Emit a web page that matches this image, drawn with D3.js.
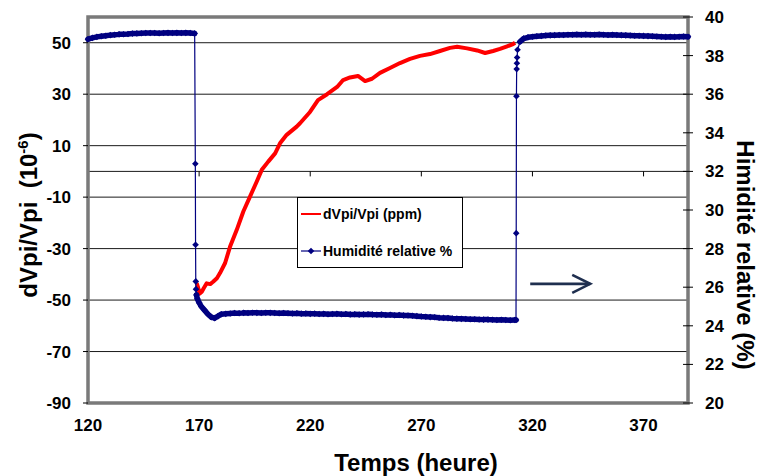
<!DOCTYPE html>
<html><head><meta charset="utf-8">
<script src="https://cdn.jsdelivr.net/npm/d3@7"></script>
<style>
html,body{margin:0;padding:0;background:#fff;}
svg{display:block;font-family:"Liberation Sans",Arial,sans-serif;font-weight:bold;}
</style></head>
<body><svg id="c" width="758" height="476"></svg>
<script>
// ---- data ----
const xTicks = [120, 170, 220, 270, 320, 370];
const leftTicks = [-90, -70, -50, -30, -10, 10, 30, 50];
const gridValues = [-70, -50, -30, -10, 0, 10, 30, 50];
const rightTicks = [20, 22, 24, 26, 28, 30, 32, 34, 36, 38, 40];

const dvHours = [168.9,169.5,170.3,171.2,172,173.4,175,176.3,178,179.4,181.7,183.9,186.9,189.9,192.9,195.9,198.2,201.1,204.2,206.4,209.4,213.9,215.4,219.9,223.5,227.6,232.1,234.8,237.9,241.5,244.7,247.8,251.4,255.9,260.4,264.9,269.4,273.9,278.4,282.9,286.1,290.6,295.1,298.7,302.3,305.4,308.6,311.3,312.2];
const dvValues = [-43.4,-45,-47.5,-46.8,-45.5,-43.5,-43.8,-42.9,-41.5,-39.5,-35.6,-29.3,-22.8,-15.6,-9.8,-4.0,0.6,3.8,7.0,10.9,14.2,17.4,18.7,23.1,27.7,30,32.8,35.5,36.5,37.1,35.1,36,38.3,40.2,42.1,43.7,44.9,45.6,46.8,48,48.4,47.8,47,46,46.8,47.6,48.6,49.5,50];

const humHours = [120,122,124,126,128,130,132,134,136,138,140,142,144,146,148,150,152,154,156,158,160,162,164,166,168,
168.3,168.4,168.5,168.6,168.8,169.2,170,171,172.5,174,175.5,177,178.5,180,
182,184,186,188,190,192,194,196,198,200,202,204,206,208,210,212,214,216,218,220,222,224,226,228,230,232,234,236,238,240,242,244,246,248,250,252,254,256,258,260,262,264,266,268,270,272,274,276,278,280,282,284,286,288,290,292,294,296,298,300,302,304,306,308,310,312,
312.6,312.7,312.8,312.9,313.0,313.1,313.3,314.4,316,318,320,322,
324,326,328,330,332,334,336,338,340,342,344,346,348,350,352,354,356,358,360,362,364,366,368,370,372,374,376,378,380,382,384,386,388,390];
const humValues = [38.85,38.92,38.97,39.0,39.03,39.06,39.08,39.1,39.11,39.12,39.14,39.15,39.16,39.17,39.17,39.17,39.16,39.17,39.18,39.17,39.18,39.17,39.18,39.17,39.15,
32.4,28.2,26.3,25.9,25.6,25.4,25.2,25.0,24.8,24.6,24.45,24.4,24.5,24.6,
24.62,24.64,24.66,24.65,24.67,24.66,24.68,24.67,24.66,24.68,24.67,24.66,24.65,24.66,24.65,24.64,24.65,24.63,24.64,24.62,24.63,24.61,24.62,24.6,24.61,24.62,24.6,24.61,24.59,24.6,24.58,24.59,24.6,24.58,24.57,24.58,24.56,24.57,24.55,24.56,24.54,24.53,24.52,24.5,24.48,24.47,24.45,24.44,24.42,24.41,24.4,24.38,24.37,24.36,24.35,24.34,24.34,24.33,24.32,24.32,24.31,24.3,24.31,24.3,24.29,24.3,
24.3,28.8,35.9,37.3,37.6,37.9,38.3,38.72,38.88,38.95,38.98,39.0,
39.02,39.04,39.05,39.06,39.07,39.07,39.08,39.08,39.09,39.08,39.09,39.08,39.08,39.09,39.08,39.07,39.08,39.07,39.06,39.05,39.04,39.03,39.03,39.02,39.01,39.0,38.99,38.98,38.97,38.98,38.97,38.98,38.99,38.98];

const legendLabels = ["dVpi/Vpi (ppm)", "Humidité relative %"];

// ---- layout ----
const L = 88, R = 688, T = 17, B = 403;
const svg = d3.select("#c");
const x = d3.scaleLinear().domain([120, 390]).range([L, R]);
const yL = d3.scaleLinear().domain([-90, 60]).range([B, T]);
const yR = d3.scaleLinear().domain([20, 40]).range([B, T]);

// gridlines
svg.append("g").selectAll("line").data(gridValues).join("line")
  .attr("x1", L).attr("x2", R).attr("y1", d => yL(d)).attr("y2", d => yL(d))
  .attr("stroke", "#1a1a1a").attr("stroke-width", 1);

// x axis at zero with ticks
svg.append("g").selectAll("line").data(xTicks.slice(1)).join("line")
  .attr("x1", d => x(d)).attr("x2", d => x(d)).attr("y1", yL(0)).attr("y2", yL(0) + 5)
  .attr("stroke", "#000").attr("stroke-width", 1);

// frame
svg.append("rect").attr("x", L).attr("y", T).attr("width", R - L).attr("height", B - T)
  .attr("fill", "none").attr("stroke", "#7a7a7a").attr("stroke-width", 3.5);

// red series
const dv = dvHours.map((h, i) => [h, dvValues[i]]);
svg.append("path").datum(dv)
  .attr("d", d3.line().x(d => x(d[0])).y(d => yL(d[1])))
  .attr("fill", "none").attr("stroke", "#ff0000").attr("stroke-width", 4).attr("stroke-linejoin", "round");

// blue series
const hum = humHours.map((h, i) => [h, humValues[i]]);
const navy = "#000080";
svg.append("path").datum(hum)
  .attr("d", d3.line().x(d => x(d[0])).y(d => yR(d[1])))
  .attr("fill", "none").attr("stroke", navy).attr("stroke-width", 1.2);
// dense marker band: thick stroke between close consecutive points
let band = "";
for (let i = 1; i < hum.length; i++) {
  const x0 = x(hum[i - 1][0]), y0 = yR(hum[i - 1][1]), x1 = x(hum[i][0]), y1 = yR(hum[i][1]);
  if (Math.abs(y1 - y0) < 5) band += `M${x0},${y0}L${x1},${y1}`;
}
svg.append("path").attr("d", band).attr("fill", "none").attr("stroke", navy)
  .attr("stroke-width", 5.5).attr("stroke-linecap", "round").attr("stroke-linejoin", "round");
const diamond = "M0,-3.3L3.3,0L0,3.3L-3.3,0Z";
svg.append("g").selectAll("path").data(hum).join("path")
  .attr("d", diamond).attr("transform", d => `translate(${x(d[0])},${yR(d[1])})`)
  .attr("fill", navy);

// left ticks and labels
svg.append("g").selectAll("line").data(leftTicks).join("line")
  .attr("x1", L - 5).attr("x2", L).attr("y1", d => yL(d)).attr("y2", d => yL(d)).attr("stroke", "#000");
svg.append("g").selectAll("text").data(leftTicks).join("text")
  .attr("x", L - 17).attr("y", d => yL(d) + 6).attr("text-anchor", "end")
  .attr("font-size", 17).text(d => d);

// right ticks and labels
svg.append("g").selectAll("line").data(rightTicks).join("line")
  .attr("x1", R - 5).attr("x2", R + 5).attr("y1", d => yR(d)).attr("y2", d => yR(d)).attr("stroke", "#000");
svg.append("g").selectAll("text").data(rightTicks).join("text")
  .attr("x", R + 17).attr("y", d => yR(d) + 6).attr("text-anchor", "start")
  .attr("font-size", 17).text(d => d);

// bottom labels
svg.append("g").selectAll("text").data(xTicks).join("text")
  .attr("x", d => x(d)).attr("y", 431).attr("text-anchor", "middle")
  .attr("font-size", 17).text(d => d);

// axis titles
svg.append("text").attr("x", 416).attr("y", 471).attr("text-anchor", "middle")
  .attr("font-size", 24).text("Temps (heure)");
const lt = svg.append("text").attr("transform", "translate(37,215) rotate(-90)")
  .attr("text-anchor", "middle").attr("font-size", 24);
lt.append("tspan").text("dVpi/Vpi\u00a0\u00a0(10");
lt.append("tspan").attr("font-size", 15).attr("dy", -9).text("-6");
lt.append("tspan").attr("dy", 9).text(")");
svg.append("text").attr("transform", "translate(737,255) rotate(90)")
  .attr("text-anchor", "middle").attr("font-size", 24).text("Himidité relative (%)");

// legend
const lg = svg.append("g");
lg.append("rect").attr("x", 297.5).attr("y", 197.5).attr("width", 165).attr("height", 70)
  .attr("fill", "#fff").attr("stroke", "#000").attr("stroke-width", 1);
lg.append("line").attr("x1", 301).attr("x2", 321).attr("y1", 214).attr("y2", 214)
  .attr("stroke", "#ff0000").attr("stroke-width", 2);
lg.append("line").attr("x1", 301).attr("x2", 321).attr("y1", 251).attr("y2", 251)
  .attr("stroke", navy).attr("stroke-width", 1.2);
lg.append("path").attr("d", diamond).attr("transform", "translate(311,251)").attr("fill", navy);
lg.selectAll("text").data(legendLabels).join("text")
  .attr("x", 323).attr("y", (d, i) => i === 0 ? 219 : 256)
  .attr("font-size", 14).text(d => d);

// arrow annotation (hours / left-axis units)
const arrow = { x0: 319, x1: 346, y: -43.7 };
const ag = svg.append("g").attr("stroke", "#1f2f4f").attr("stroke-width", 2.6).attr("fill", "none");
ag.append("line").attr("x1", x(arrow.x0)).attr("x2", x(arrow.x1)).attr("y1", yL(arrow.y)).attr("y2", yL(arrow.y));
ag.append("path").attr("d", `M${x(arrow.x1) - 18},${yL(arrow.y) - 9}L${x(arrow.x1)},${yL(arrow.y)}L${x(arrow.x1) - 18},${yL(arrow.y) + 9}`);
</script>
</body></html>
